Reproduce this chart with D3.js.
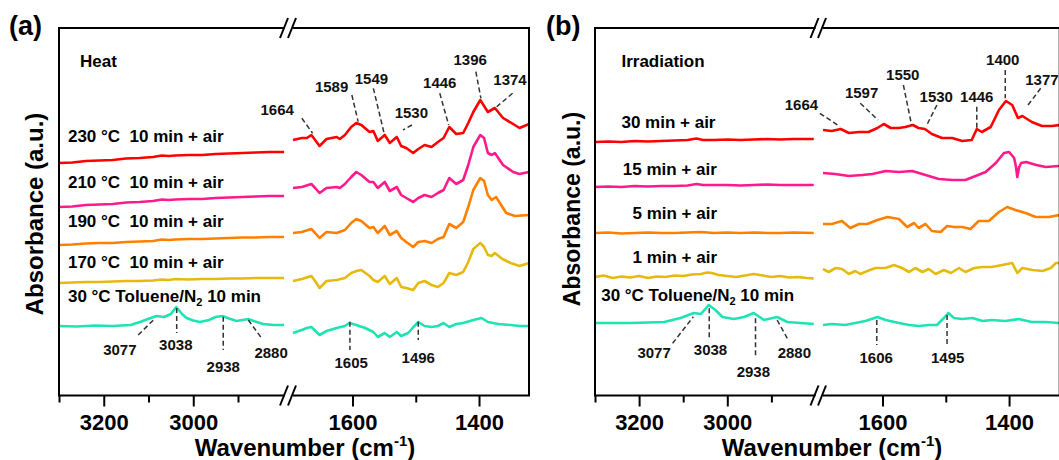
<!DOCTYPE html>
<html>
<head>
<meta charset="utf-8">
<script src="https://cdn.jsdelivr.net/npm/d3@7"></script>
<style>
  body { margin: 0; background: #fff; }
  svg { display: block; font-family: "Liberation Sans", Arial, sans-serif; font-weight: bold; }
  text { white-space: pre; }
</style>
</head>
<body>
<div id="chart"></div>
<script>
// ---- data: [wavenumber (cm-1), absorbance (a.u., offset as plotted)] ----
const heatLabels = ["230 \u00B0C  10 min + air", "210 \u00B0C  10 min + air", "190 \u00B0C  10 min + air", "170 \u00B0C  10 min + air", "30 \u00B0C Toluene/N"];
const irrLabels = ["30 min + air", "15 min + air", "5 min + air", "1 min + air", "30 \u00B0C Toluene/N"];

const heat230 = [
  [3300,2.32],[3270,2.325],[3240,2.34],[3210,2.345],[3180,2.35],[3150,2.365],[3120,2.37],[3090,2.38],[3070,2.395],[3055,2.39],[3040,2.395],[3010,2.40],[2980,2.40],[2950,2.41],[2920,2.415],[2890,2.42],[2860,2.425],[2830,2.43],[2797,2.43],
  [1694,2.55],[1680,2.57],[1672,2.57],[1665,2.60],[1659,2.55],[1652,2.49],[1641,2.56],[1625,2.58],[1620,2.56],[1612,2.60],[1602,2.68],[1594,2.72],[1586,2.70],[1573,2.63],[1567,2.64],[1560,2.54],[1549,2.60],[1541,2.52],[1530,2.58],[1523,2.49],[1515,2.47],[1504,2.42],[1496,2.46],[1486,2.50],[1475,2.48],[1465,2.53],[1456,2.57],[1447,2.68],[1436,2.61],[1425,2.62],[1417,2.72],[1409,2.83],[1398,2.95],[1386,2.83],[1375,2.87],[1362,2.77],[1346,2.71],[1336,2.67],[1321,2.71]
];
const heat210 = [
  [3300,1.88],[3270,1.885],[3240,1.90],[3210,1.905],[3180,1.91],[3150,1.925],[3120,1.93],[3090,1.94],[3070,1.955],[3055,1.95],[3040,1.955],[3010,1.96],[2980,1.96],[2950,1.97],[2920,1.975],[2890,1.98],[2860,1.985],[2830,1.99],[2797,1.99],
  [1694,2.07],[1680,2.08],[1665,2.11],[1659,2.07],[1652,2.02],[1641,2.07],[1625,2.08],[1620,2.07],[1612,2.11],[1602,2.18],[1594,2.23],[1586,2.20],[1573,2.13],[1567,2.13],[1560,2.07],[1549,2.13],[1541,2.04],[1530,2.08],[1523,2.00],[1515,1.97],[1504,1.93],[1496,1.97],[1486,2.00],[1475,1.98],[1465,2.02],[1456,2.05],[1447,2.17],[1436,2.11],[1425,2.15],[1417,2.30],[1409,2.48],[1398,2.60],[1392,2.57],[1386,2.42],[1380,2.40],[1375,2.42],[1362,2.30],[1346,2.23],[1336,2.21],[1321,2.23]
];
const heat190 = [
  [3300,1.50],[3270,1.505],[3240,1.515],[3210,1.52],[3180,1.52],[3150,1.53],[3120,1.535],[3090,1.54],[3070,1.555],[3055,1.55],[3040,1.555],[3010,1.56],[2980,1.56],[2950,1.565],[2920,1.57],[2890,1.575],[2860,1.575],[2830,1.58],[2797,1.58],
  [1694,1.62],[1680,1.63],[1665,1.66],[1659,1.62],[1652,1.57],[1641,1.63],[1625,1.62],[1612,1.65],[1602,1.72],[1594,1.76],[1586,1.74],[1573,1.67],[1567,1.68],[1560,1.62],[1549,1.69],[1541,1.60],[1530,1.64],[1523,1.57],[1515,1.53],[1504,1.48],[1496,1.53],[1486,1.54],[1475,1.52],[1465,1.56],[1456,1.58],[1447,1.71],[1436,1.67],[1425,1.73],[1417,1.88],[1409,2.05],[1398,2.17],[1392,2.14],[1386,2.00],[1380,1.95],[1373,1.98],[1363,1.88],[1357,1.82],[1343,1.79],[1321,1.80]
];
const heat170 = [
  [3300,1.12],[3270,1.125],[3240,1.13],[3210,1.13],[3180,1.135],[3150,1.14],[3120,1.14],[3090,1.145],[3070,1.155],[3055,1.15],[3040,1.16],[3010,1.155],[2980,1.16],[2950,1.16],[2920,1.165],[2890,1.165],[2860,1.17],[2830,1.17],[2797,1.17],
  [1694,1.14],[1680,1.16],[1665,1.19],[1659,1.14],[1652,1.07],[1641,1.14],[1625,1.15],[1612,1.17],[1602,1.22],[1594,1.24],[1586,1.25],[1573,1.19],[1567,1.15],[1560,1.13],[1549,1.19],[1541,1.11],[1530,1.17],[1523,1.08],[1515,1.07],[1504,1.05],[1496,1.12],[1486,1.14],[1475,1.10],[1465,1.08],[1456,1.12],[1447,1.22],[1436,1.20],[1425,1.23],[1417,1.33],[1409,1.46],[1398,1.52],[1392,1.48],[1386,1.40],[1380,1.39],[1375,1.42],[1363,1.36],[1350,1.32],[1336,1.29],[1321,1.32]
];
const heatToluene = [
  [3300,0.69],[3260,0.685],[3220,0.695],[3180,0.69],[3140,0.70],[3119,0.73],[3101,0.76],[3082,0.79],[3065,0.78],[3050,0.81],[3038,0.88],[3025,0.81],[3015,0.77],[3000,0.745],[2985,0.73],[2965,0.75],[2950,0.78],[2935,0.79],[2920,0.765],[2903,0.74],[2890,0.75],[2877,0.76],[2865,0.74],[2844,0.71],[2820,0.70],[2797,0.70],
  [1694,0.62],[1680,0.65],[1672,0.67],[1665,0.68],[1652,0.60],[1641,0.64],[1625,0.67],[1612,0.69],[1605,0.72],[1594,0.70],[1580,0.67],[1567,0.63],[1560,0.58],[1549,0.62],[1541,0.58],[1530,0.63],[1523,0.59],[1512,0.62],[1505,0.67],[1496,0.73],[1486,0.69],[1475,0.68],[1465,0.69],[1456,0.72],[1447,0.68],[1436,0.71],[1425,0.72],[1409,0.75],[1396,0.77],[1386,0.73],[1370,0.71],[1350,0.70],[1336,0.69],[1321,0.69]
];

const irr30 = [
  [3300,2.53],[3270,2.535],[3240,2.53],[3210,2.54],[3180,2.535],[3150,2.54],[3120,2.545],[3090,2.55],[3070,2.565],[3055,2.55],[3030,2.55],[3000,2.555],[2970,2.55],[2940,2.555],[2910,2.56],[2880,2.555],[2850,2.56],[2804,2.56],
  [1694,2.65],[1680,2.64],[1666,2.66],[1653,2.62],[1637,2.63],[1622,2.63],[1608,2.67],[1598,2.71],[1587,2.67],[1574,2.67],[1564,2.68],[1552,2.70],[1543,2.67],[1533,2.66],[1522,2.61],[1506,2.57],[1490,2.57],[1474,2.54],[1459,2.55],[1451,2.66],[1443,2.63],[1429,2.68],[1416,2.85],[1405,2.94],[1395,2.90],[1386,2.77],[1379,2.79],[1364,2.73],[1348,2.69],[1332,2.69],[1320,2.70]
];
const irr15 = [
  [3300,2.08],[3270,2.085],[3240,2.08],[3210,2.09],[3180,2.085],[3150,2.09],[3120,2.09],[3090,2.095],[3070,2.11],[3055,2.10],[3030,2.10],[3000,2.10],[2970,2.095],[2940,2.10],[2910,2.105],[2880,2.10],[2850,2.10],[2804,2.10],
  [1694,2.22],[1675,2.21],[1653,2.19],[1632,2.20],[1616,2.21],[1595,2.24],[1574,2.23],[1553,2.24],[1532,2.20],[1511,2.16],[1490,2.15],[1469,2.15],[1453,2.19],[1437,2.23],[1421,2.32],[1408,2.42],[1400,2.43],[1392,2.37],[1389,2.28],[1387,2.18],[1384,2.28],[1381,2.32],[1373,2.33],[1357,2.30],[1342,2.28],[1320,2.29]
];
const irr5 = [
  [3300,1.62],[3270,1.625],[3240,1.615],[3210,1.62],[3180,1.625],[3150,1.62],[3120,1.62],[3090,1.625],[3060,1.63],[3030,1.62],[3000,1.625],[2970,1.62],[2940,1.625],[2910,1.62],[2880,1.62],[2850,1.625],[2804,1.62],
  [1694,1.71],[1680,1.71],[1664,1.74],[1651,1.67],[1637,1.71],[1624,1.71],[1608,1.75],[1592,1.78],[1574,1.76],[1561,1.68],[1550,1.72],[1543,1.67],[1532,1.71],[1522,1.64],[1508,1.63],[1498,1.69],[1487,1.68],[1474,1.68],[1461,1.66],[1448,1.74],[1432,1.74],[1416,1.83],[1403,1.88],[1390,1.85],[1374,1.82],[1358,1.78],[1337,1.78],[1320,1.80]
];
const irr1 = [
  [3300,1.18],[3280,1.195],[3260,1.17],[3240,1.185],[3220,1.175],[3200,1.19],[3180,1.17],[3160,1.185],[3140,1.18],[3120,1.195],[3100,1.19],[3080,1.205],[3060,1.21],[3045,1.225],[3035,1.22],[3020,1.20],[3000,1.19],[2980,1.18],[2960,1.195],[2940,1.21],[2920,1.195],[2900,1.18],[2880,1.19],[2860,1.175],[2840,1.18],[2820,1.17],[2804,1.165],
  [1694,1.26],[1685,1.23],[1674,1.27],[1664,1.26],[1653,1.21],[1643,1.24],[1635,1.21],[1624,1.24],[1611,1.27],[1595,1.27],[1582,1.30],[1569,1.27],[1558,1.23],[1548,1.27],[1537,1.23],[1527,1.26],[1516,1.21],[1503,1.25],[1492,1.22],[1479,1.27],[1469,1.23],[1455,1.27],[1442,1.28],[1427,1.28],[1411,1.30],[1395,1.32],[1387,1.22],[1379,1.27],[1363,1.25],[1347,1.24],[1334,1.27],[1326,1.32],[1320,1.32]
];
const irrToluene = [
  [3300,0.72],[3260,0.72],[3219,0.72],[3180,0.725],[3143,0.73],[3106,0.77],[3076,0.82],[3060,0.81],[3042,0.90],[3027,0.85],[3011,0.78],[2985,0.76],[2962,0.78],[2940,0.82],[2917,0.75],[2887,0.78],[2864,0.73],[2834,0.72],[2804,0.71],
  [1694,0.70],[1680,0.71],[1659,0.70],[1643,0.72],[1627,0.74],[1608,0.78],[1595,0.75],[1574,0.72],[1558,0.70],[1542,0.69],[1527,0.70],[1514,0.70],[1503,0.77],[1496,0.82],[1487,0.77],[1474,0.76],[1458,0.77],[1442,0.74],[1427,0.75],[1406,0.74],[1385,0.76],[1364,0.73],[1342,0.73],[1320,0.72]
];

// peak labels: [text, label wn, label abs, leader from wn, abs, leader to wn, abs]
const heatPeaks = [
  ["1664", 1719, 2.80, 1680, 2.767, 1663, 2.617],
  ["1589", 1633, 3.03, 1601, 3.00, 1591, 2.733],
  ["1549", 1570, 3.11, 1567, 3.067, 1550, 2.617],
  ["1530", 1507, 2.77, 1506, 2.70, 1520, 2.65],
  ["1446", 1462, 3.07, 1462, 3.017, 1448, 2.70],
  ["1396", 1414, 3.30, 1405, 3.233, 1397, 2.967],
  ["1374", 1351, 3.10, 1347, 3.017, 1372, 2.883],
  ["3077", 3164, 0.40, 3123, 0.60, 3085, 0.767],
  ["3038", 3039, 0.45, 3037, 0.87, 3037, 0.62],
  ["2938", 2933, 0.23, 2933, 0.783, 2933, 0.45],
  ["2880", 2826, 0.37, 2877, 0.75, 2847, 0.567],
  ["1605", 1602, 0.27, 1604, 0.733, 1604, 0.45],
  ["1496", 1496, 0.32, 1496, 0.733, 1496, 0.55]
];
const irrPeaks = [
  ["1664", 1728, 2.85, 1699, 2.817, 1667, 2.683],
  ["1597", 1633, 2.97, 1635, 2.917, 1607, 2.75],
  ["1550", 1568, 3.15, 1567, 3.10, 1554, 2.70],
  ["1530", 1515, 2.93, 1514, 2.90, 1530, 2.70],
  ["1446", 1451, 2.93, 1451, 2.883, 1451, 2.667],
  ["1400", 1410, 3.30, 1406, 3.25, 1406, 2.967],
  ["1377", 1348, 3.10, 1350, 3.067, 1372, 2.883],
  ["3077", 3166, 0.37, 3124, 0.517, 3077, 0.783],
  ["3038", 3038, 0.40, 3041, 0.867, 3041, 0.567],
  ["2938", 2941, 0.18, 2936, 0.767, 2936, 0.383],
  ["2880", 2848, 0.37, 2887, 0.75, 2864, 0.567],
  ["1606", 1610, 0.32, 1609, 0.75, 1609, 0.50],
  ["1495", 1497, 0.32, 1498, 0.80, 1498, 0.50]
];

const majorTicksHi = [3200, 3000], minorTicksHi = [3300, 3100, 2900];
const majorTicksLo = [1600, 1400], minorTicksLo = [1500];

const seriesColors = ["#ff0000", "#ff1a8c", "#ff8000", "#e6b90f", "#1fe3b3"];

const svg = d3.select('#chart').append('svg')
  .attr('width', 1059)
  .attr('height', 460);

drawPanel({
  letter: "(a)", letterX: 9,
  title: "Heat", titleAt: [3253, 3.28],
  hiEnd: 2795, hiRange: [59, 285], loEnd: 1321, loRange: [293, 529],
  series: [heat230, heat210, heat190, heat170, heatToluene],
  labels: heatLabels,
  labelAt: [[3280, 2.535], [3280, 2.07], [3280, 1.68], [3280, 1.275], [3280, 0.93]],
  peaks: heatPeaks,
  yLabelX: 43, yLabelY: 214, yLabelSize: 24,
  xLabelX: 305
});
drawPanel({
  letter: "(b)", letterX: 546,
  title: "Irradiation", titleAt: [3240, 3.28],
  hiEnd: 2800, hiRange: [595, 815.5], loEnd: 1320, loRange: [823, 1059.7],
  series: [irr30, irr15, irr5, irr1, irrToluene],
  labels: irrLabels,
  labelAt: [[3240, 2.67], [3237, 2.20], [3215, 1.76], [3215, 1.32], [3286, 0.94]],
  peaks: irrPeaks,
  yLabelX: 580, yLabelY: 209, yLabelSize: 23,
  xLabelX: 832
});

function drawPanel(p) {
  const g = svg.append('g');
  const xHi = d3.scaleLinear().domain([3300, p.hiEnd]).range(p.hiRange);
  const xLo = d3.scaleLinear().domain([1694, p.loEnd]).range(p.loRange);
  const y = d3.scaleLinear().domain([0, 3.67]).range([395, 28]);
  const xOf = wn => wn > 2000 ? xHi(wn) : xLo(wn);
  const top = 28, bottom = 395.5;

  // spectra, each drawn as two pieces either side of the axis break
  const line = d3.line().x(d => xOf(d[0])).y(d => y(d[1]));
  p.series.forEach((s, i) => {
    const parts = [s.filter(d => d[0] > 2000), s.filter(d => d[0] < 2000)];
    g.selectAll(null).data(parts).enter().append('path')
      .attr('d', line)
      .attr('fill', 'none')
      .attr('stroke', seriesColors[i])
      .attr('stroke-width', 2.6)
      .attr('stroke-linejoin', 'round');
  });

  // frame with broken top and bottom edges
  const frame = g.append('g').attr('stroke', '#000').attr('stroke-width', 2).attr('fill', 'none');
  const x0 = p.hiRange[0], x1 = p.loRange[1];
  [top, bottom].forEach(yy => {
    frame.append('line').attr('x1', x0 - 1).attr('x2', p.hiRange[1]).attr('y1', yy).attr('y2', yy);
    frame.append('line').attr('x1', p.loRange[0]).attr('x2', x1 + 1).attr('y1', yy).attr('y2', yy);
    [p.hiRange[1] - 1, p.loRange[0] - 1].forEach(cx => {
      frame.append('line').attr('x1', cx - 4).attr('y1', yy + 10).attr('x2', cx + 4).attr('y2', yy - 10);
    });
  });
  frame.append('line').attr('x1', x0).attr('x2', x0).attr('y1', top).attr('y2', bottom);
  frame.append('line').attr('x1', x1).attr('x2', x1).attr('y1', top).attr('y2', bottom);

  // x axes
  const axisG = (scale, major, minor) => {
    const a = g.append('g').attr('transform', `translate(0,${bottom})`);
    a.append('g').call(d3.axisBottom(scale).tickValues(minor).tickSize(7).tickFormat(''));
    a.append('g').call(d3.axisBottom(scale).tickValues(major).tickSize(11).tickPadding(8).tickFormat(d3.format('d')));
    a.selectAll('.domain').remove();
    a.selectAll('.tick line').attr('stroke-width', 2);
    a.selectAll('.tick text')
      .attr('font-size', 22)
      .attr('font-family', '"Liberation Sans", Arial, sans-serif')
      .attr('font-weight', 'bold')
      .attr('fill', '#000');
  };
  axisG(xHi, majorTicksHi, minorTicksHi);
  axisG(xLo, majorTicksLo, minorTicksLo);

  // series labels
  p.labels.forEach((lab, i) => {
    const t = g.append('text')
      .attr('x', xOf(p.labelAt[i][0]))
      .attr('y', y(p.labelAt[i][1]))
      .attr('font-size', 17)
      .text(lab);
    if (lab.endsWith('/N')) {
      t.append('tspan').attr('font-size', 11).attr('dy', 4).text('2');
      t.append('tspan').attr('dy', -4).text(' 10 min');
    }
  });
  g.append('text')
    .attr('x', xOf(p.titleAt[0]))
    .attr('y', y(p.titleAt[1]))
    .attr('font-size', 17)
    .text(p.title);

  // peak annotations
  p.peaks.forEach(pk => {
    g.append('line')
      .attr('x1', xOf(pk[3])).attr('y1', y(pk[4]))
      .attr('x2', xOf(pk[5])).attr('y2', y(pk[6]))
      .attr('stroke', '#333')
      .attr('stroke-width', 1.5)
      .attr('stroke-dasharray', '5,3');
    g.append('text')
      .attr('x', xOf(pk[1]))
      .attr('y', y(pk[2]))
      .attr('text-anchor', 'middle')
      .attr('font-size', 15)
      .attr('fill', '#111')
      .text(pk[0]);
  });

  // panel letter and axis titles
  g.append('text').attr('x', p.letterX).attr('y', 35).attr('font-size', 27).text(p.letter);
  g.append('text')
    .attr('transform', `translate(${p.yLabelX},${p.yLabelY}) rotate(-90)`)
    .attr('text-anchor', 'middle')
    .attr('font-size', p.yLabelSize)
    .text('Absorbance (a.u.)');
  const xt = g.append('text')
    .attr('x', p.xLabelX).attr('y', 456)
    .attr('text-anchor', 'middle')
    .attr('font-size', 24)
    .text('Wavenumber (cm');
  xt.append('tspan').attr('font-size', 15).attr('dy', -10).text('-1');
  xt.append('tspan').attr('dy', 10).text(')');
}
</script>
</body>
</html>
